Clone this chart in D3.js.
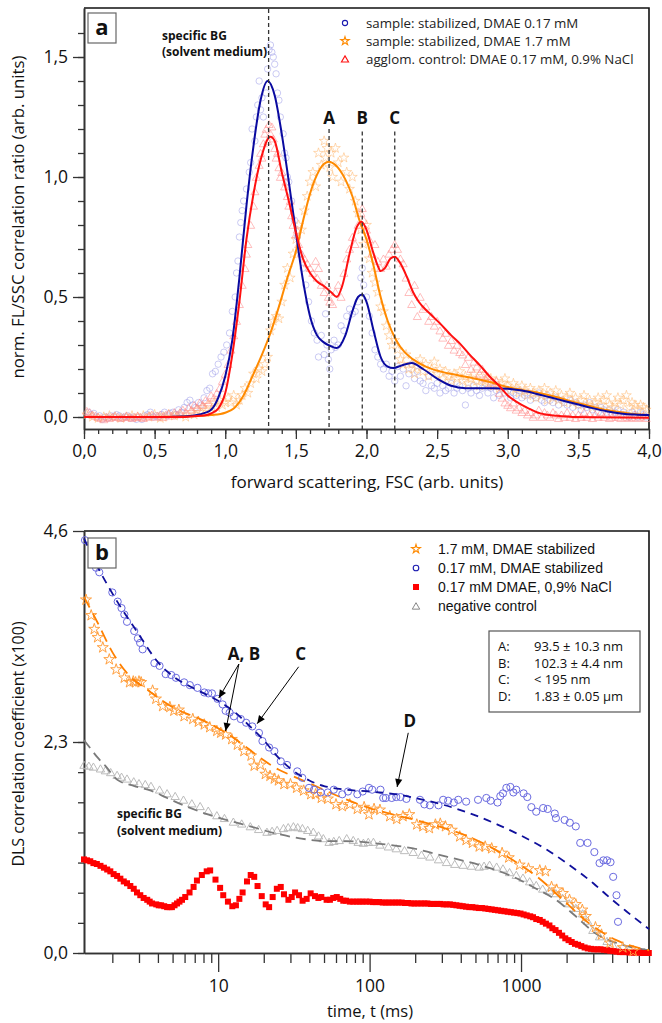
<!DOCTYPE html>
<html><head><meta charset="utf-8">
<script src="https://cdn.jsdelivr.net/npm/d3@7"></script>
<style>
body{margin:0;background:#fff}
svg{display:block}
text{font-family:"Open Sans",sans-serif}
</style>
</head><body>
<svg id="chart" width="662" height="1023"></svg>
<script>
// ---------------- Panel a: FL/SSC correlation ratio vs forward scattering ----------------
const fscTicks = [0, 0.5, 1, 1.5, 2, 2.5, 3, 3.5, 4];
const ratioTicks = [0, 0.5, 1, 1.5];
const peakMarks = [{x: 1.307, label: "", top: 1.70}, {x: 1.735, label: "A", top: 1.20}, {x: 1.97, label: "B", top: 1.19}, {x: 2.20, label: "C", top: 1.19}];
const legendA = ["sample: stabilized, DMAE 0.17 mM", "sample: stabilized, DMAE 1.7 mM", "agglom. control: DMAE 0.17 mM, 0.9% NaCl"];

const blueScatterA = [[0.03,0.02],[0.05,0.01],[0.07,0.015],[0.09,0.0],[0.11,0.005],[0.13,-0.01],[0.15,0.0],[0.17,-0.005],[0.19,0.005],[0.21,0.0],[0.23,0.01],[0.25,0.005],[0.27,-0.005],[0.29,0.0],[0.31,0.005],[0.33,-0.005],[0.35,0.0],[0.37,-0.01],[0.39,0.0],[0.41,-0.01],[0.43,0.005],[0.45,0.01],[0.47,0.02],[0.49,0.0],[0.51,0.005],[0.53,0.0],[0.55,0.01],[0.57,0.02],[0.59,0.005],[0.61,0.015],[0.63,0.02],[0.65,0.01],[0.67,0.03],[0.69,0.02],[0.71,0.04],[0.73,0.06],[0.75,0.07],[0.77,0.05],[0.79,0.04],[0.81,0.06],[0.83,0.05],[0.85,0.08],[0.87,0.11],[0.89,0.12],[0.91,0.18],[0.93,0.19],[0.95,0.22],[0.97,0.25],[0.99,0.27],[1.01,0.30],[1.03,0.35],[1.05,0.44],[1.07,0.50],[1.08,0.60],[1.09,0.65],[1.10,0.75],[1.11,0.81],[1.12,0.86],[1.13,0.90],[1.15,0.95],[1.17,1.02],[1.18,1.06],[1.19,1.20],[1.21,1.15],[1.22,1.25],[1.23,1.30],[1.24,1.40],[1.25,1.28],[1.26,1.33],[1.27,1.25],[1.29,1.35],[1.30,1.45],[1.31,1.53],[1.32,1.55],[1.33,1.52],[1.34,1.50],[1.35,1.47],[1.36,1.43],[1.37,1.35],[1.38,1.32],[1.39,1.25],[1.41,1.18],[1.42,1.10],[1.43,1.08],[1.44,1.00],[1.45,0.98],[1.47,0.90],[1.49,0.82],[1.51,0.75],[1.53,0.68],[1.55,0.62],[1.57,0.55],[1.59,0.48],[1.61,0.40],[1.63,0.35],[1.65,0.32],[1.66,0.25],[1.68,0.34],[1.70,0.26],[1.71,0.43],[1.72,0.30],[1.73,0.24],[1.74,0.20],[1.75,0.28],[1.77,0.32],[1.78,0.29],[1.80,0.30],[1.82,0.38],[1.84,0.36],[1.86,0.42],[1.88,0.45],[1.90,0.43],[1.92,0.44],[1.94,0.48],[1.96,0.58],[1.97,0.62],[1.98,0.55],[2.00,0.50],[2.02,0.42],[2.04,0.35],[2.06,0.28],[2.08,0.25],[2.10,0.22],[2.12,0.20],[2.14,0.22],[2.16,0.17],[2.18,0.19],[2.20,0.15],[2.22,0.21],[2.24,0.17],[2.26,0.20],[2.28,0.13],[2.30,0.18],[2.32,0.22],[2.34,0.16],[2.36,0.19],[2.38,0.15],[2.40,0.14],[2.42,0.11],[2.44,0.17],[2.46,0.13],[2.48,0.12],[2.50,0.14],[2.52,0.10],[2.54,0.13],[2.56,0.11],[2.58,0.12],[2.60,0.14],[2.62,0.10],[2.64,0.12],[2.66,0.13],[2.68,0.11],[2.70,0.05],[2.72,0.12],[2.74,0.10],[2.76,0.13],[2.78,0.11],[2.80,0.09],[2.82,0.12],[2.84,0.14],[2.86,0.10],[2.88,0.12],[2.90,0.08],[2.92,0.11],[2.94,0.09],[2.96,0.12],[2.98,0.10],[3.00,0.11],[3.02,0.08],[3.04,0.10],[3.06,0.09],[3.08,0.11],[3.10,0.08],[3.12,0.09],[3.14,0.10],[3.16,0.07],[3.18,0.09],[3.20,0.08],[3.22,0.10],[3.24,0.07],[3.26,0.06],[3.28,0.09],[3.30,0.07],[3.32,0.06],[3.34,0.08],[3.36,0.05],[3.38,0.07],[3.40,0.06],[3.42,0.05],[3.44,0.07],[3.46,0.04],[3.48,0.06],[3.50,0.05],[3.52,0.03],[3.54,0.05],[3.56,0.04],[3.58,0.06],[3.60,0.03],[3.62,0.04],[3.64,0.02],[3.66,0.04],[3.68,0.03],[3.70,0.02],[3.72,0.03],[3.74,0.01],[3.76,0.02],[3.78,0.03],[3.80,0.01],[3.82,0.02],[3.84,0.01],[3.86,0.0],[3.88,0.02],[3.90,0.01],[3.92,0.0],[3.94,0.02],[3.96,0.01],[3.98,0.0]];

const orangeScatterA = [[0.02,0.01],[0.06,0.0],[0.10,-0.005],[0.14,0.0],[0.18,0.005],[0.22,0.0],[0.26,-0.005],[0.30,0.0],[0.34,0.005],[0.38,0.0],[0.42,0.005],[0.46,0.0],[0.50,0.01],[0.54,-0.005],[0.56,0.0],[0.60,0.01],[0.64,0.005],[0.68,0.01],[0.72,0.0],[0.76,0.02],[0.78,0.01],[0.80,0.03],[0.82,0.02],[0.84,0.04],[0.86,0.03],[0.88,0.05],[0.90,0.02],[0.92,0.06],[0.94,0.04],[0.96,0.07],[0.98,0.05],[1.00,0.06],[1.02,0.08],[1.04,0.06],[1.06,0.09],[1.08,0.05],[1.10,0.07],[1.12,0.09],[1.14,0.12],[1.16,0.10],[1.18,0.14],[1.20,0.18],[1.22,0.16],[1.24,0.20],[1.26,0.19],[1.28,0.22],[1.30,0.25],[1.32,0.36],[1.34,0.40],[1.36,0.42],[1.38,0.41],[1.40,0.48],[1.42,0.55],[1.44,0.62],[1.46,0.58],[1.48,0.68],[1.50,0.74],[1.52,0.80],[1.54,0.78],[1.56,0.86],[1.58,0.92],[1.60,0.98],[1.62,1.02],[1.64,0.96],[1.66,1.10],[1.68,1.05],[1.70,1.15],[1.71,1.08],[1.72,1.12],[1.74,1.04],[1.75,1.10],[1.76,1.00],[1.78,1.12],[1.80,1.06],[1.82,0.98],[1.84,1.08],[1.86,1.02],[1.88,0.95],[1.90,1.00],[1.92,0.90],[1.94,0.85],[1.96,0.78],[1.98,0.72],[2.00,0.80],[2.02,0.66],[2.04,0.60],[2.06,0.56],[2.08,0.52],[2.10,0.46],[2.12,0.44],[2.14,0.38],[2.16,0.34],[2.18,0.30],[2.20,0.32],[2.22,0.28],[2.24,0.24],[2.26,0.22],[2.28,0.26],[2.30,0.20],[2.32,0.22],[2.34,0.18],[2.36,0.21],[2.38,0.24],[2.40,0.19],[2.42,0.22],[2.44,0.17],[2.46,0.20],[2.48,0.23],[2.50,0.18],[2.52,0.20],[2.54,0.16],[2.56,0.19],[2.58,0.17],[2.60,0.15],[2.62,0.18],[2.64,0.16],[2.66,0.19],[2.68,0.15],[2.70,0.17],[2.72,0.14],[2.74,0.16],[2.76,0.18],[2.78,0.15],[2.80,0.13],[2.82,0.17],[2.84,0.15],[2.86,0.14],[2.88,0.16],[2.90,0.13],[2.92,0.15],[2.94,0.12],[2.96,0.14],[2.98,0.16],[3.00,0.13],[3.02,0.11],[3.04,0.14],[3.06,0.12],[3.08,0.10],[3.10,0.13],[3.12,0.11],[3.14,0.09],[3.16,0.12],[3.18,0.10],[3.20,0.08],[3.22,0.11],[3.24,0.09],[3.26,0.12],[3.28,0.07],[3.30,0.10],[3.32,0.08],[3.34,0.11],[3.36,0.07],[3.38,0.09],[3.40,0.06],[3.42,0.08],[3.44,0.10],[3.46,0.06],[3.48,0.08],[3.50,0.05],[3.52,0.07],[3.54,0.09],[3.56,0.05],[3.58,0.07],[3.60,0.04],[3.62,0.06],[3.64,0.08],[3.66,0.05],[3.68,0.07],[3.70,0.09],[3.72,0.05],[3.74,0.04],[3.76,0.06],[3.78,0.08],[3.80,0.05],[3.82,0.07],[3.84,0.09],[3.86,0.04],[3.88,0.06],[3.90,0.05],[3.92,0.03],[3.94,0.05],[3.96,0.04],[3.98,0.03]];

const redScatterA = [[0.02,0.025],[0.04,0.02],[0.06,0.01],[0.08,0.005],[0.10,0.0],[0.12,-0.005],[0.14,-0.01],[0.16,0.0],[0.18,-0.005],[0.20,0.0],[0.22,0.005],[0.24,0.0],[0.26,-0.005],[0.28,0.0],[0.30,0.005],[0.32,0.0],[0.34,-0.005],[0.36,0.0],[0.38,0.005],[0.40,0.0],[0.42,-0.005],[0.44,0.0],[0.46,0.005],[0.48,0.01],[0.50,0.0],[0.52,0.005],[0.54,0.01],[0.56,0.0],[0.58,0.01],[0.60,0.015],[0.62,0.005],[0.64,0.02],[0.66,0.01],[0.68,0.02],[0.70,0.03],[0.72,0.02],[0.74,0.04],[0.76,0.03],[0.78,0.05],[0.80,0.04],[0.82,0.06],[0.84,0.05],[0.86,0.07],[0.88,0.06],[0.90,0.09],[0.92,0.08],[0.94,0.10],[0.96,0.12],[0.98,0.15],[1.00,0.18],[1.02,0.22],[1.04,0.28],[1.06,0.34],[1.08,0.40],[1.10,0.47],[1.12,0.55],[1.14,0.62],[1.15,0.68],[1.16,0.72],[1.18,0.80],[1.20,0.88],[1.21,0.94],[1.22,1.00],[1.24,1.05],[1.25,1.10],[1.26,1.08],[1.27,1.14],[1.28,1.18],[1.29,1.20],[1.30,1.15],[1.31,1.22],[1.32,1.18],[1.33,1.21],[1.34,1.16],[1.35,1.12],[1.36,1.08],[1.37,1.10],[1.38,1.04],[1.39,1.00],[1.40,1.02],[1.42,0.96],[1.43,0.98],[1.44,0.92],[1.45,0.88],[1.46,0.90],[1.47,0.84],[1.48,0.80],[1.50,0.76],[1.51,0.78],[1.52,0.72],[1.54,0.68],[1.56,0.66],[1.58,0.64],[1.60,0.62],[1.62,0.60],[1.64,0.65],[1.65,0.58],[1.66,0.62],[1.68,0.55],[1.70,0.52],[1.72,0.55],[1.73,0.50],[1.74,0.48],[1.76,0.47],[1.78,0.52],[1.80,0.55],[1.82,0.50],[1.84,0.60],[1.86,0.66],[1.88,0.70],[1.90,0.75],[1.92,0.72],[1.94,0.80],[1.96,0.85],[1.97,0.87],[1.98,0.82],[2.00,0.78],[2.02,0.74],[2.04,0.68],[2.06,0.72],[2.08,0.65],[2.10,0.62],[2.12,0.66],[2.14,0.63],[2.16,0.68],[2.18,0.70],[2.20,0.72],[2.22,0.70],[2.24,0.66],[2.26,0.64],[2.28,0.58],[2.30,0.52],[2.32,0.47],[2.34,0.55],[2.36,0.42],[2.38,0.50],[2.40,0.45],[2.42,0.46],[2.44,0.40],[2.46,0.42],[2.48,0.38],[2.50,0.40],[2.52,0.36],[2.54,0.33],[2.56,0.35],[2.58,0.30],[2.60,0.32],[2.62,0.28],[2.64,0.30],[2.66,0.27],[2.68,0.26],[2.70,0.22],[2.72,0.25],[2.74,0.20],[2.76,0.23],[2.78,0.21],[2.80,0.18],[2.82,0.20],[2.84,0.16],[2.86,0.17],[2.88,0.14],[2.90,0.13],[2.92,0.15],[2.94,0.10],[2.96,0.08],[2.98,0.06],[3.00,0.05],[3.02,0.04],[3.04,0.06],[3.06,0.03],[3.08,0.04],[3.10,0.02],[3.12,0.03],[3.14,0.01],[3.16,0.02],[3.18,0.0],[3.20,0.01],[3.22,0.03],[3.24,0.0],[3.26,0.02],[3.28,0.01],[3.30,0.0],[3.32,0.02],[3.34,0.01],[3.36,-0.005],[3.38,0.01],[3.40,0.0],[3.42,0.02],[3.44,0.0],[3.46,0.01],[3.48,-0.005],[3.50,0.01],[3.52,0.0],[3.54,0.02],[3.56,0.0],[3.58,0.01],[3.60,-0.005],[3.62,0.01],[3.64,0.0],[3.66,0.02],[3.68,0.0],[3.70,0.01],[3.72,-0.005],[3.74,0.0],[3.76,0.01],[3.78,0.0],[3.80,-0.005],[3.82,0.01],[3.84,0.0],[3.86,-0.005],[3.88,0.0],[3.90,0.01],[3.92,-0.005],[3.94,0.0],[3.96,0.005],[3.98,-0.005]];

const blueFitA = [[0.0,0],[0.6,0],[0.7,0.002],[0.75,0.004],[0.80,0.008],[0.85,0.016],[0.90,0.03],[0.95,0.08],[1.00,0.17],[1.05,0.32],[1.10,0.58],[1.15,0.88],[1.20,1.13],[1.25,1.32],[1.30,1.40],[1.35,1.34],[1.40,1.18],[1.45,0.98],[1.50,0.77],[1.55,0.57],[1.60,0.42],[1.65,0.34],[1.70,0.31],[1.75,0.295],[1.79,0.287],[1.85,0.34],[1.90,0.44],[1.94,0.50],[1.97,0.51],[2.00,0.48],[2.05,0.36],[2.10,0.25],[2.15,0.21],[2.19,0.204],[2.25,0.215],[2.32,0.225],[2.40,0.20],[2.50,0.16],[2.60,0.13],[2.70,0.12],[2.80,0.12],[2.90,0.12],[3.00,0.118],[3.10,0.11],[3.20,0.097],[3.30,0.082],[3.40,0.067],[3.50,0.052],[3.60,0.037],[3.70,0.024],[3.80,0.015],[3.90,0.01],[4.00,0.008]];

const orangeFitA = [[0.0,0],[0.5,0],[0.8,0.004],[0.9,0.008],[1.0,0.018],[1.06,0.035],[1.12,0.08],[1.2,0.18],[1.26,0.26],[1.32,0.35],[1.38,0.46],[1.44,0.58],[1.50,0.69],[1.56,0.84],[1.60,0.93],[1.65,1.01],[1.70,1.055],[1.735,1.064],[1.78,1.05],[1.85,0.99],[1.90,0.92],[1.95,0.82],[2.00,0.74],[2.05,0.63],[2.10,0.50],[2.15,0.40],[2.21,0.32],[2.27,0.27],[2.33,0.24],[2.42,0.21],[2.52,0.19],[2.64,0.175],[2.76,0.161],[2.88,0.145],[2.99,0.126],[3.11,0.112],[3.23,0.099],[3.35,0.082],[3.46,0.064],[3.58,0.046],[3.70,0.029],[3.85,0.016],[4.0,0.008]];

const redFitA = [[0.0,0],[0.7,0],[0.80,0.004],[0.87,0.008],[0.90,0.015],[0.95,0.035],[1.00,0.10],[1.05,0.26],[1.10,0.48],[1.15,0.74],[1.20,0.93],[1.25,1.07],[1.32,1.168],[1.35,1.15],[1.40,1.02],[1.45,0.90],[1.50,0.77],[1.55,0.66],[1.60,0.60],[1.65,0.565],[1.70,0.545],[1.75,0.52],[1.79,0.50],[1.83,0.55],[1.88,0.68],[1.93,0.79],[1.965,0.814],[2.00,0.78],[2.04,0.70],[2.08,0.63],[2.10,0.608],[2.13,0.62],[2.17,0.66],[2.20,0.668],[2.24,0.64],[2.285,0.585],[2.33,0.52],[2.37,0.48],[2.45,0.43],[2.52,0.39],[2.60,0.34],[2.66,0.307],[2.73,0.26],[2.80,0.217],[2.87,0.17],[2.945,0.126],[3.00,0.09],[3.06,0.064],[3.15,0.035],[3.23,0.015],[3.35,0.005],[3.46,0.0],[4.0,-0.003]];

// ---------------- Panel b: DLS correlation coefficient vs time ----------------
const dlsMajorTicks = [0, 2.3, 4.6];
const timeMajorTicks = [10, 100, 1000];
const legendB = ["1.7 mM, DMAE stabilized", "0.17 mM, DMAE stabilized", "0.17 mM DMAE, 0,9% NaCl", "negative control"];
const sizeLabels = ["A:", "B:", "C:", "D:"];
const sizeValues = ["93.5 \u00b1 10.3 nm", "102.3 \u00b1 4.4 nm", "< 195 nm", "1.83 \u00b1 0.05 \u00b5m"];

const blueDotsB = [[1.32,4.50],[1.56,4.20],[1.64,4.15],[2.0,3.93],[2.17,3.83],[2.3,3.76],[2.4,3.69],[2.5,3.61],[2.79,3.51],[2.95,3.43],[3.05,3.38],[3.17,3.31],[3.79,3.16],[4.1,3.13],[4.5,3.04],[4.9,3.03],[5.26,3.00],[5.96,2.95],[6.5,2.92],[7.3,2.89],[8.1,2.84],[8.6,2.83],[9.1,2.83],[9.9,2.77],[10.7,2.71],[11.2,2.64],[11.9,2.62],[12.7,2.58],[14.1,2.55],[15.3,2.51],[16.8,2.47],[18.6,2.40],[19.6,2.31],[21.7,2.24],[23.5,2.20],[25.9,2.09],[28.5,2.05],[33.3,1.98],[35.9,1.91],[39.8,1.80],[43,1.78],[47.6,1.75],[53,1.75],[58,1.78],[66,1.73],[72,1.76],[83,1.73],[90,1.76],[99,1.80],[104,1.78],[118,1.78],[123,1.69],[128,1.69],[140,1.69],[150,1.70],[160,1.70],[175,1.68],[215,1.67],[230,1.62],[250,1.61],[285,1.61],[306,1.67],[330,1.66],[360,1.64],[385,1.67],[434,1.65],[520,1.67],[590,1.69],[630,1.66],[700,1.64],[730,1.71],[760,1.74],[800,1.80],[850,1.81],[890,1.75],[930,1.78],[1040,1.74],[1100,1.70],[1170,1.59],[1260,1.54],[1400,1.58],[1500,1.57],[1670,1.52],[1700,1.47],[1940,1.45],[2100,1.42],[2300,1.38],[2460,1.20],[2750,1.20],[3050,1.10],[3300,0.98],[3500,1.01],[3700,1.01],[3900,0.99],[4060,0.83],[4270,0.63],[4370,0.34]];

const orangeDotsB = [[1.34,3.85],[1.45,3.68],[1.52,3.53],[1.6,3.44],[1.73,3.33],[1.91,3.20],[2.12,3.09],[2.4,3.00],[2.6,2.95],[2.75,2.96],[2.85,2.95],[3.0,2.96],[3.1,2.95],[3.69,2.86],[3.88,2.77],[4.3,2.69],[4.8,2.68],[5.1,2.64],[5.5,2.65],[5.96,2.58],[6.8,2.55],[7.4,2.52],[8.1,2.49],[8.8,2.46],[9.8,2.42],[10.4,2.40],[11.2,2.38],[12.3,2.33],[13.4,2.27],[14.8,2.20],[16.5,2.15],[17.3,2.04],[19,2.05],[20.5,1.95],[22,1.93],[23.5,1.90],[25,1.88],[27.2,1.84],[30,1.84],[33,1.80],[36.7,1.77],[40.9,1.73],[44,1.73],[48,1.69],[53,1.68],[60,1.62],[66,1.60],[74,1.62],[83,1.57],[92,1.59],[99,1.51],[107,1.57],[117,1.56],[136,1.49],[151,1.46],[166,1.49],[183,1.51],[205,1.40],[225,1.38],[248,1.36],[272,1.40],[293,1.41],[317,1.38],[349,1.34],[394,1.27],[434,1.23],[478,1.20],[530,1.16],[580,1.16],[640,1.14],[750,1.09],[830,1.04],[980,0.96],[1120,0.92],[1330,0.90],[1450,0.89],[1590,0.72],[1720,0.69],[1890,0.65],[2090,0.58],[2300,0.53],[2540,0.47],[2680,0.40],[3100,0.28],[3400,0.20],[3870,0.11],[4700,0.06],[5500,0.02]];

const grayDotsB = [[1.3,2.05],[1.4,2.04],[1.5,2.03],[1.67,2.01],[1.8,1.99],[1.95,1.97],[2.15,1.94],[2.3,1.92],[2.5,1.90],[2.77,1.87],[3.0,1.85],[3.3,1.84],[3.6,1.82],[4.1,1.78],[4.6,1.74],[5.2,1.71],[5.9,1.67],[6.7,1.63],[7.6,1.60],[8.6,1.55],[9.8,1.50],[11,1.47],[12.6,1.43],[14.3,1.41],[16.3,1.38],[18.5,1.35],[21,1.32],[22.7,1.33],[24.5,1.34],[27,1.36],[29,1.37],[31.4,1.38],[33.5,1.37],[36,1.36],[39,1.34],[42.5,1.32],[46,1.28],[49.5,1.25],[54,1.21],[58,1.22],[63,1.23],[70.6,1.25],[78,1.23],[84,1.21],[91,1.20],[98,1.21],[106,1.21],[117,1.18],[133,1.16],[150,1.14],[170,1.12],[194,1.10],[220,1.07],[250,1.05],[285,1.02],[322,0.99],[365,0.97],[415,0.96],[470,0.95],[530,0.94],[570,0.95],[620,0.96],[690,0.94],[760,0.92],[840,0.88],[930,0.85],[1030,0.82],[1140,0.78],[1260,0.74],[1390,0.70],[1540,0.68],[1700,0.65],[1880,0.60],[2080,0.54],[2300,0.49],[2550,0.43],[2750,0.35],[2980,0.25],[3300,0.18],[3700,0.13],[4050,0.087],[4500,0.03],[5000,0.02],[5700,0.01],[6500,0.01]];

const redDotsB = [[1.3,1.02],[1.36,1.01],[1.43,1.00],[1.5,0.98],[1.58,0.97],[1.67,0.95],[1.76,0.93],[1.85,0.91],[1.94,0.89],[2.04,0.86],[2.15,0.84],[2.26,0.81],[2.38,0.78],[2.5,0.76],[2.63,0.73],[2.77,0.70],[2.91,0.66],[3.06,0.63],[3.22,0.60],[3.4,0.58],[3.53,0.56],[3.66,0.54],[3.9,0.53],[4.05,0.52],[4.2,0.52],[4.4,0.51],[4.6,0.50],[4.78,0.50],[4.95,0.50],[5.15,0.52],[5.35,0.54],[5.55,0.56],[5.77,0.58],[6.06,0.61],[6.47,0.66],[6.88,0.72],[7.24,0.79],[7.8,0.85],[8.4,0.89],[8.85,0.90],[9.6,0.80],[10.3,0.71],[10.8,0.63],[11.6,0.56],[12.4,0.51],[13.1,0.52],[13.8,0.59],[14.5,0.66],[15.5,0.78],[16.4,0.85],[17.3,0.83],[18.2,0.73],[19.4,0.62],[20.6,0.53],[21.7,0.50],[22.9,0.61],[24.4,0.70],[25.9,0.72],[27.2,0.64],[29.1,0.58],[30.6,0.61],[32.2,0.66],[34.2,0.63],[36.1,0.57],[38.4,0.59],[40.8,0.65],[43.6,0.62],[45.9,0.60],[48,0.61],[52,0.58],[54.7,0.58],[57.5,0.60],[60.7,0.61],[64,0.59],[67,0.57],[70,0.57],[74,0.56],[78,0.56],[82,0.56],[86,0.56],[90,0.56],[95,0.56],[100,0.56],[105,0.555],[110,0.555],[116,0.555],[122,0.55],[128,0.55],[134,0.55],[141,0.55],[148,0.55],[155,0.55],[163,0.55],[171,0.545],[180,0.545],[189,0.54],[198,0.54],[208,0.54],[219,0.54],[230,0.54],[241,0.54],[253,0.535],[266,0.535],[279,0.535],[293,0.535],[308,0.53],[323,0.53],[339,0.53],[356,0.525],[374,0.52],[393,0.515],[412,0.51],[433,0.505],[455,0.50],[477,0.50],[501,0.495],[526,0.49],[552,0.49],[580,0.485],[609,0.48],[640,0.475],[672,0.47],[705,0.465],[740,0.46],[777,0.455],[816,0.45],[857,0.445],[900,0.44],[945,0.435],[992,0.43],[1040,0.42],[1090,0.41],[1150,0.40],[1200,0.39],[1260,0.37],[1330,0.36],[1390,0.34],[1460,0.32],[1540,0.30],[1610,0.27],[1690,0.25],[1780,0.22],[1870,0.19],[1960,0.16],[2060,0.14],[2160,0.12],[2270,0.10],[2380,0.09],[2500,0.075],[2630,0.06],[2760,0.05],[2900,0.045],[3040,0.04],[3200,0.04],[3350,0.04],[3520,0.035],[3700,0.03],[3880,0.025],[4080,0.02],[4280,0.015],[4500,0.01],[4720,0.01],[4960,0.01],[5200,0.005],[5460,0.005],[5740,0.005],[6030,0.005],[6330,0.0],[6650,0.0],[6980,0.0]];

const blueFitB = [[1.3,4.52],[1.5,4.30],[2,3.92],[3,3.47],[4,3.17],[5,3.02],[7,2.88],[10,2.75],[13,2.62],[16,2.48],[20,2.32],[25,2.13],[30,2.01],[40,1.88],[50,1.82],[70,1.78],[100,1.76],[150,1.73],[200,1.69],[300,1.62],[500,1.50],[700,1.40],[1000,1.28],[1500,1.12],[2000,0.98],[3000,0.76],[4000,0.58],[5000,0.45],[7000,0.26]];
const orangeFitB = [[1.3,3.88],[1.6,3.60],[2,3.28],[2.5,3.05],[3.4,2.87],[5,2.68],[7.6,2.55],[10,2.45],[13,2.33],[16,2.22],[20,2.10],[25,2.00],[30,1.94],[40,1.85],[60,1.72],[100,1.58],[150,1.50],[200,1.45],[300,1.37],[450,1.27],[620,1.16],[930,0.99],[1260,0.84],[1890,0.58],[2830,0.32],[4260,0.14],[7000,0.03]];
const grayFitB = [[1.3,2.32],[1.45,2.22],[1.58,2.14],[1.8,2.04],[2.15,1.89],[2.8,1.82],[3.6,1.77],[4.6,1.69],[5.9,1.61],[7.6,1.54],[9.8,1.48],[12.6,1.43],[16.3,1.38],[24.4,1.30],[34.6,1.25],[51,1.22],[70,1.22],[117,1.19],[194,1.14],[322,1.05],[530,0.96],[890,0.83],[1260,0.70],[1700,0.58],[2300,0.40],[3130,0.21],[4260,0.11],[7000,0.03]];

// arrow annotations in data units: label position, arrow tail, arrow tips
const callouts = [
  {text: "A, B", at: [14.8, 3.19], tail: [13.7, 3.15], tips: [[10.1, 2.78], [11.2, 2.42]]},
  {text: "C", at: [35.1, 3.19], tail: [34, 3.12], tips: [[18.1, 2.50]]},
  {text: "D", at: [184, 2.46], tail: [180, 2.40], tips: [[152, 1.81]]}
];

const comma = d => d.toFixed(1).replace(".", ",");
const svg = d3.select("#chart");

const defs = svg.append("defs");
defs.append("marker").attr("id", "head").attr("viewBox", "0 0 10 10")
  .attr("refX", 10).attr("refY", 5).attr("markerWidth", 9).attr("markerHeight", 8)
  .attr("markerUnits", "userSpaceOnUse").attr("orient", "auto")
  .append("path").attr("d", "M0,0.5 L10,5 L0,9.5 Z").attr("fill", "#000");

function styleAxis(g) {
  g.selectAll("path.domain").attr("stroke", "#333").attr("stroke-width", 1.6);
  g.selectAll(".tick line").attr("stroke", "#333").attr("stroke-width", 1.3);
  g.selectAll(".tick text").attr("fill", "#111").style("font-family", "'Open Sans',sans-serif").style("font-size", "17.5px");
}

// ===== Panel a =====
const xa = d3.scaleLinear().domain([0, 4]).range([84, 649]);
const ya = d3.scaleLinear().domain([-0.05, 1.7042]).range([429, 8]);
const ga = svg.append("g");

// frame (top / right)
ga.append("path").attr("d", `M84,8 H649 V429`).attr("fill", "none").attr("stroke", "#111").attr("stroke-width", 1.6);

// minor / major ticks
ga.append("g").attr("transform", "translate(0,429)")
  .call(d3.axisBottom(xa).tickValues(d3.range(0, 4.001, 0.1)).tickSize(5).tickFormat("").tickSizeOuter(0)).call(styleAxis);
ga.append("g").attr("transform", "translate(0,429)")
  .call(d3.axisBottom(xa).tickValues(fscTicks).tickSize(10).tickPadding(6).tickFormat(comma).tickSizeOuter(0)).call(styleAxis);
ga.append("g").attr("transform", "translate(84,0)")
  .call(d3.axisLeft(ya).tickValues(d3.range(0, 1.61, 0.1)).tickSize(6).tickFormat("").tickSizeOuter(0)).call(styleAxis);
ga.append("g").attr("transform", "translate(84,0)")
  .call(d3.axisLeft(ya).tickValues(ratioTicks).tickSize(11).tickPadding(5).tickFormat(comma).tickSizeOuter(0)).call(styleAxis);

ga.append("text").attr("x", 367).attr("y", 488).attr("text-anchor", "middle").style("font-size", "17px").attr("fill", "#111")
  .text("forward scattering, FSC (arb. units)");
ga.append("text").attr("transform", "translate(24,217) rotate(-90)").attr("text-anchor", "middle").style("font-size", "16.8px").attr("fill", "#111")
  .text("norm. FL/SSC correlation ratio (arb. units)");

// scatter
const plotA = ga.append("g");
plotA.selectAll("circle.bs").data(blueScatterA).join("circle").attr("class", "bs")
  .attr("cx", d => xa(d[0])).attr("cy", d => ya(d[1])).attr("r", 3.2)
  .attr("fill", "none").attr("stroke", "#9a9ae8").attr("stroke-width", 0.8).attr("opacity", 0.65);
const starA = d3.symbol().type(d3.symbolStar).size(30)();
plotA.selectAll("path.os").data(orangeScatterA).join("path").attr("class", "os")
  .attr("d", starA).attr("transform", d => `translate(${xa(d[0])},${ya(d[1])})`)
  .attr("fill", "none").attr("stroke", "#ffbb77").attr("stroke-width", 0.8).attr("opacity", 0.7);
const triA = d3.symbol().type(d3.symbolTriangle).size(28)();
plotA.selectAll("path.rs").data(redScatterA).join("path").attr("class", "rs")
  .attr("d", triA).attr("transform", d => `translate(${xa(d[0])},${ya(d[1]) + 1})`)
  .attr("fill", "none").attr("stroke", "#ff8a8a").attr("stroke-width", 0.8).attr("opacity", 0.7);

// fits
const lineA = d3.line().x(d => xa(d[0])).y(d => ya(d[1])).curve(d3.curveMonotoneX);
plotA.append("path").datum(orangeFitA).attr("d", lineA).attr("fill", "none").attr("stroke", "#ff8a00").attr("stroke-width", 2);
plotA.append("path").datum(blueFitA).attr("d", lineA).attr("fill", "none").attr("stroke", "#0a0aa0").attr("stroke-width", 2);
plotA.append("path").datum(redFitA).attr("d", lineA).attr("fill", "none").attr("stroke", "#ff1010").attr("stroke-width", 2);

// peak markers
peakMarks.forEach(p => {
  ga.append("line").attr("x1", xa(p.x)).attr("x2", xa(p.x)).attr("y1", Math.max(ya(p.top), 8)).attr("y2", 429)
    .attr("stroke", "#333").attr("stroke-width", 1.3).attr("stroke-dasharray", "4,3");
  if (p.label) ga.append("text").attr("x", xa(p.x)).attr("y", 124).attr("text-anchor", "middle")
    .style("font-size", "17px").style("font-weight", "bold").attr("fill", "#111").text(p.label);
});

ga.append("text").attr("x", 162).attr("y", 40).style("font-size", "12px").style("font-weight", "bold").attr("fill", "#111").text("specific BG");
ga.append("text").attr("x", 162).attr("y", 56).style("font-size", "12px").style("font-weight", "bold").attr("fill", "#111").text("(solvent medium)");

// panel label
ga.append("rect").attr("x", 88).attr("y", 13).attr("width", 28).attr("height", 30).attr("fill", "#fff").attr("stroke", "#666").attr("stroke-width", 1.2);
ga.append("text").attr("x", 102).attr("y", 35).attr("text-anchor", "middle").style("font-size", "22px").style("font-weight", "bold").attr("fill", "#111").text("a");

// legend a
const legA = ga.append("g");
const legAColors = ["#1a1ab0", "#ff8a00", "#ff1010"];
legendA.forEach((t, i) => {
  const y = 23 + i * 18;
  if (i === 0) legA.append("circle").attr("cx", 345).attr("cy", y).attr("r", 2.6).attr("fill", "none").attr("stroke", legAColors[i]).attr("stroke-width", 1.1);
  if (i === 1) legA.append("path").attr("d", d3.symbol().type(d3.symbolStar).size(22)()).attr("transform", `translate(345,${y})`).attr("fill", "none").attr("stroke", legAColors[i]).attr("stroke-width", 1.1);
  if (i === 2) legA.append("path").attr("d", d3.symbol().type(d3.symbolTriangle).size(22)()).attr("transform", `translate(345,${y + 1})`).attr("fill", "none").attr("stroke", legAColors[i]).attr("stroke-width", 1.1);
  legA.append("text").attr("x", 366).attr("y", y + 5).style("font-size", "13.3px").attr("fill", "#222").text(t);
});

// ===== Panel b =====
const xb = d3.scaleLog().domain([1.3, 7000]).range([84, 649]);
const yb = d3.scaleLinear().domain([0, 4.6]).range([953, 531]);
const gb = svg.append("g");

gb.append("path").attr("d", `M84,531 H649 V953`).attr("fill", "none").attr("stroke", "#111").attr("stroke-width", 1.6);

const minorT = [];
[1, 10, 100, 1000].forEach(dec => { for (let k = 2; k <= 9; k++) { const v = k * dec; if (v >= 1.3 && v <= 7000) minorT.push(v); } });
gb.append("g").attr("transform", "translate(0,953)")
  .call(d3.axisBottom(xb).tickValues(minorT).tickSize(10).tickFormat("").tickSizeOuter(0)).call(styleAxis);
gb.append("g").attr("transform", "translate(0,953)")
  .call(d3.axisBottom(xb).tickValues(timeMajorTicks).tickSize(19).tickPadding(8).tickFormat(d3.format("d")).tickSizeOuter(0)).call(styleAxis);
gb.append("g").attr("transform", "translate(84,0)")
  .call(d3.axisLeft(yb).tickValues(d3.range(0, 8).map(i => i * 2.3 / 7)).tickSize(6).tickFormat("").tickSizeOuter(0)).call(styleAxis);
gb.append("g").attr("transform", "translate(84,0)")
  .call(d3.axisLeft(yb).tickValues(dlsMajorTicks).tickSize(11).tickPadding(5).tickFormat(comma).tickSizeOuter(0)).call(styleAxis);

gb.append("text").attr("x", 370).attr("y", 1017).attr("text-anchor", "middle").style("font-size", "16.5px").attr("fill", "#111").text("time, t (ms)");
gb.append("text").attr("transform", "translate(24,744) rotate(-90)").attr("text-anchor", "middle").style("font-size", "16px").attr("fill", "#111")
  .text("DLS correlation coefficient (x100)");

const plotB = gb.append("g");
const lineB = d3.line().x(d => xb(d[0])).y(d => yb(d[1])).curve(d3.curveMonotoneX);

// negative control
const triB = d3.symbol().type(d3.symbolTriangle).size(30)();
plotB.selectAll("path.gt").data(grayDotsB).join("path").attr("class", "gt")
  .attr("d", triB).attr("transform", d => `translate(${xb(d[0])},${yb(d[1]) + 1})`)
  .attr("fill", "none").attr("stroke", "#b4b4b4").attr("stroke-width", 0.9);
plotB.append("path").datum(grayFitB).attr("d", lineB).attr("fill", "none").attr("stroke", "#7a7a7a").attr("stroke-width", 1.8).attr("stroke-dasharray", "10,6");

// NaCl sample
plotB.selectAll("rect.rq").data(redDotsB).join("rect").attr("class", "rq")
  .attr("x", d => xb(d[0]) - 3).attr("y", d => yb(d[1]) - 3).attr("width", 6).attr("height", 6).attr("fill", "#ff0000");

// 1.7 mM stabilized
const starB = d3.symbol().type(d3.symbolStar).size(38)();
plotB.selectAll("path.ob").data(orangeDotsB).join("path").attr("class", "ob")
  .attr("d", starB).attr("transform", d => `translate(${xb(d[0])},${yb(d[1])})`)
  .attr("fill", "none").attr("stroke", "#ffa040").attr("stroke-width", 1);
plotB.append("path").datum(orangeFitB).attr("d", lineB).attr("fill", "none").attr("stroke", "#ff8000").attr("stroke-width", 1.8).attr("stroke-dasharray", "12,7");

// 0.17 mM stabilized
plotB.selectAll("circle.bb").data(blueDotsB).join("circle").attr("class", "bb")
  .attr("cx", d => xb(d[0])).attr("cy", d => yb(d[1])).attr("r", 3.6)
  .attr("fill", "none").attr("stroke", "#6a6ae0").attr("stroke-width", 1);
plotB.append("path").datum(blueFitB).attr("d", lineB).attr("fill", "none").attr("stroke", "#10109c").attr("stroke-width", 1.8).attr("stroke-dasharray", "8,6");

// callouts
callouts.forEach(c => {
  gb.append("text").attr("x", xb(c.at[0])).attr("y", yb(c.at[1])).attr("text-anchor", "middle")
    .style("font-size", "17px").style("font-weight", "bold").attr("fill", "#111").text(c.text);
  c.tips.forEach(tp => {
    gb.append("line").attr("x1", xb(c.tail[0])).attr("y1", yb(c.tail[1])).attr("x2", xb(tp[0])).attr("y2", yb(tp[1]))
      .attr("stroke", "#000").attr("stroke-width", 1).attr("marker-end", "url(#head)");
  });
});

gb.append("text").attr("x", 117).attr("y", 818).style("font-size", "12px").style("font-weight", "bold").attr("fill", "#111").text("specific BG");
gb.append("text").attr("x", 117).attr("y", 835).style("font-size", "12px").style("font-weight", "bold").attr("fill", "#111").text("(solvent medium)");

// panel label
gb.append("rect").attr("x", 88).attr("y", 538).attr("width", 28).attr("height", 30).attr("fill", "#fff").attr("stroke", "#666").attr("stroke-width", 1.2);
gb.append("text").attr("x", 102).attr("y", 560).attr("text-anchor", "middle").style("font-size", "22px").style("font-weight", "bold").attr("fill", "#111").text("b");

// legend b
const legB = gb.append("g");
legendB.forEach((t, i) => {
  const y = 549 + i * 19;
  const sx = 416;
  if (i === 0) legB.append("path").attr("d", d3.symbol().type(d3.symbolStar).size(24)()).attr("transform", `translate(${sx},${y})`).attr("fill", "none").attr("stroke", "#ff8a00").attr("stroke-width", 1.1);
  if (i === 1) legB.append("circle").attr("cx", sx).attr("cy", y).attr("r", 2.8).attr("fill", "none").attr("stroke", "#1a1ab0").attr("stroke-width", 1.1);
  if (i === 2) legB.append("rect").attr("x", sx - 3).attr("y", y - 3).attr("width", 6).attr("height", 6).attr("fill", "#ff0000");
  if (i === 3) legB.append("path").attr("d", d3.symbol().type(d3.symbolTriangle).size(24)()).attr("transform", `translate(${sx},${y + 1})`).attr("fill", "none").attr("stroke", "#888").attr("stroke-width", 1);
  legB.append("text").attr("x", 438).attr("y", y + 5).style("font-family", "'Liberation Sans',Arial,sans-serif").style("font-size", "14px").attr("fill", "#111").text(t);
});

// size table
gb.append("rect").attr("x", 489).attr("y", 631).attr("width", 151).attr("height", 81).attr("fill", "#fff").attr("stroke", "#555").attr("stroke-width", 1.2);
sizeLabels.forEach((l, i) => {
  const y = 651 + i * 16.7;
  gb.append("text").attr("x", 498).attr("y", y).style("font-size", "13px").attr("fill", "#111").text(l);
  gb.append("text").attr("x", 534).attr("y", y).style("font-size", "13px").attr("fill", "#111").text(sizeValues[i]);
});
</script>
</body></html>
